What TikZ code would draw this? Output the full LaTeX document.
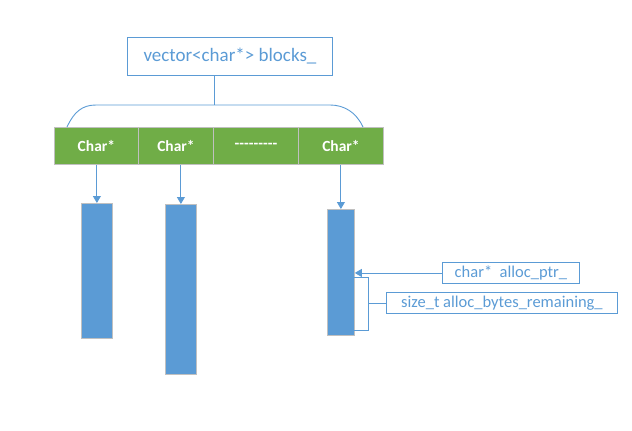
\documentclass[tikz,border=0pt]{standalone}
\usepackage{fontspec}
\setmainfont{Carlito}
\usetikzlibrary{arrows.meta}
\definecolor{mblue}{HTML}{5B9BD5}
\definecolor{mgreen}{HTML}{70AD47}
\definecolor{mgrey}{HTML}{C0C0C0}
\tikzset{
  lbl/.style={draw=mblue, line width=0.9pt, text=mblue, inner sep=0pt, anchor=north west},
  cell/.style={draw=mgrey, line width=0.9pt, fill=mgreen, text=white, inner sep=0pt, anchor=north west, font=\fontsize{15.5}{18}\selectfont\bfseries},
  blk/.style={draw=mgrey, line width=0.8pt, fill=mblue, inner sep=0pt, anchor=north west},
  conn/.style={draw=mblue, line width=0.9pt},
  arr/.style={conn, -{Triangle[width=8pt,length=7pt]}},
}
\begin{document}
\begin{tikzpicture}[x=1pt,y=-1pt]
\useasboundingbox (0,0) rectangle (632,431);
% top box
\node[lbl, minimum width=205pt, minimum height=38pt, font=\fontsize{19}{22}\selectfont] (vec) at (127,37) {vector<char*> blocks\_};
% green bar cells
\node[cell, minimum width=84pt, minimum height=37pt] (c1) at (54,127) {Char*};
\node[cell, minimum width=75pt, minimum height=37pt] (c2) at (138,127) {Char*};
\node[cell, minimum width=85pt, minimum height=37pt] (c3) at (213,127) {-{}-{}-{}-{}-{}-{}-{}-{}-};
\node[cell, minimum width=85pt, minimum height=37pt] (c4) at (298,127) {Char*};
% brace
\coordinate (j) at (214,105);
\coordinate (bl) at (67,127);
\coordinate (br) at (363,127);
\draw[conn] (vec.south -| j) -- (j);
\draw[conn] (bl) .. controls (74,112) and (82,105) .. (96,105) -- (330,105) .. controls (344,105) and (356,112) .. (br);
% blocks
\node[blk, minimum width=31pt, minimum height=135pt] (b1) at (81,203) {};
\node[blk, minimum width=31pt, minimum height=170pt] (b2) at (165,204) {};
\node[blk, minimum width=27pt, minimum height=126pt] (b3) at (327,209) {};
\draw[arr] (c1.south -| b1.north) -- (b1.north);
\draw[arr] (c2.south -| b2.north) -- (b2.north);
\draw[arr] (c4.south -| b3.north) -- (b3.north);
% labels
\node[lbl, minimum width=137pt, minimum height=21pt, font=\fontsize{16.5}{18}\selectfont] (ptr) at (442,262) {char*~~alloc\_ptr\_};
\node[lbl, minimum width=231pt, minimum height=21pt, font=\fontsize{16.5}{18}\selectfont] (rem) at (386,292) {size\_t alloc\_bytes\_remaining\_};
\draw[arr] (ptr.west) -- (ptr.west -| b3.east);
\coordinate (r1) at (354,277);
\coordinate (r2) at (368,277);
\coordinate (r3) at (368,330);
\coordinate (r4) at (354,330);
\draw[conn] (r1) -- (r2) -- (r3) -- (r4);
\draw[conn] (r2 |- rem.west) -- (rem.west);
\end{tikzpicture}
\end{document}
